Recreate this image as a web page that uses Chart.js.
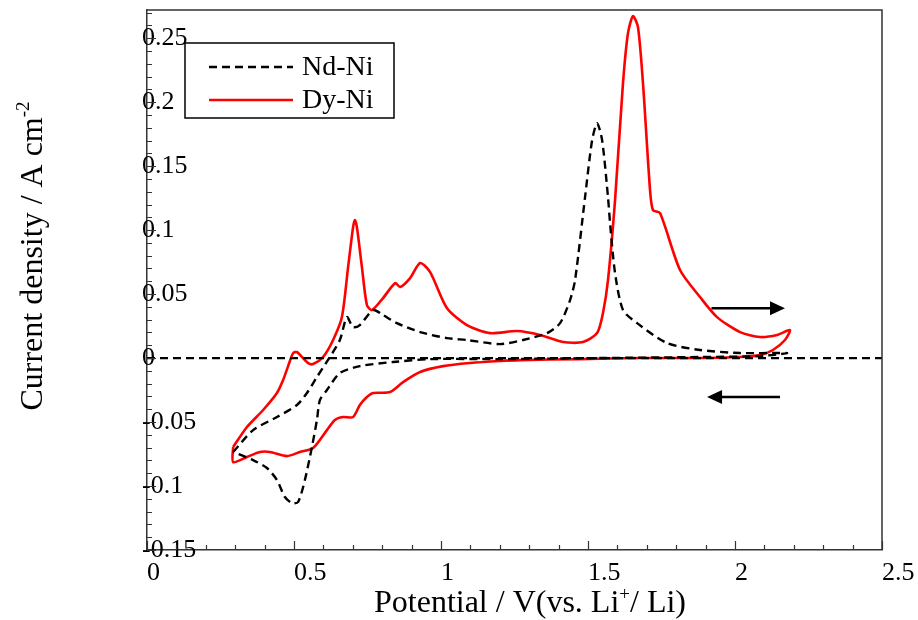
<!DOCTYPE html>
<html>
<head>
<meta charset="utf-8">
<script src="https://cdn.jsdelivr.net/npm/chart.js@4.4.1/dist/chart.umd.min.js"></script>
<style>
  html, body { margin: 0; padding: 0; background: #fff; }
</style>
</head>
<body>
<canvas id="cvChart" width="918" height="620"></canvas>
<script>
// tick labels
const xTicks = [0, 0.5, 1, 1.5, 2, 2.5];
const yTicks = [-0.15, -0.1, -0.05, 0, 0.05, 0.1, 0.15, 0.2, 0.25];

// Dy-Ni, forward scan then reverse scan
const dyV = [0.293, 0.340, 0.395, 0.442, 0.463, 0.480, 0.497, 0.510, 0.527, 0.548, 0.565, 0.599, 0.633, 0.663,
  0.684, 0.701, 0.707, 0.714, 0.731, 0.748, 0.765, 0.803, 0.844, 0.861, 0.895, 0.929, 0.963, 1.020, 1.088,
  1.167, 1.259, 1.337, 1.415, 1.483, 1.531, 1.551, 1.568, 1.592, 1.619, 1.636, 1.653, 1.670, 1.687, 1.711,
  1.721, 1.745, 1.813, 1.881, 1.939, 2.017, 2.085, 2.143, 2.187,
  2.170, 2.129, 2.085, 2.017, 1.881, 1.677, 1.473, 1.269, 1.201, 1.099, 1.007, 0.929, 0.871, 0.827, 0.769,
  0.748, 0.724, 0.701, 0.667, 0.639, 0.612, 0.565, 0.520, 0.476, 0.418, 0.384, 0.340, 0.293, 0.293];
const dyI = [-0.0695, -0.0539, -0.0406, -0.0273, -0.0172, -0.0063, 0.0039, 0.0047, 0.0008, -0.0039, -0.0047, 0.0008, 0.0141, 0.0320,
  0.0711, 0.1023, 0.1078, 0.1023, 0.0711, 0.0414, 0.0375, 0.0469, 0.0586, 0.0555, 0.0625, 0.0742, 0.0672, 0.0391, 0.0258,
  0.0195, 0.0211, 0.0180, 0.0125, 0.0125, 0.0195, 0.0352, 0.0609, 0.1234, 0.2148, 0.2539, 0.2672, 0.2586, 0.2148, 0.1313,
  0.1156, 0.1133, 0.0688, 0.0477, 0.0320, 0.0203, 0.0164, 0.0180, 0.0219,
  0.0141, 0.0063, 0.0023, 0.0008, 0.0, 0.0, -0.0008, -0.0016, -0.0023, -0.0039, -0.0063, -0.0109, -0.0188, -0.0266, -0.0273,
  -0.0305, -0.0367, -0.0461, -0.0461, -0.0484, -0.0563, -0.0703, -0.0734, -0.0766, -0.0734, -0.0734, -0.0773, -0.0813, -0.0695];

// Nd-Ni, forward scan then reverse scan
const ndV = [0.293, 0.361, 0.442, 0.510, 0.544, 0.578, 0.622, 0.656, 0.680, 0.701, 0.724, 0.769, 0.803, 0.850,
  0.929, 1.020, 1.088, 1.201, 1.279, 1.361, 1.405, 1.439, 1.456, 1.490, 1.514, 1.531, 1.548, 1.568, 1.575,
  1.592, 1.619, 1.667, 1.769, 1.881, 2.017, 2.177,
  2.085, 1.881, 1.541, 1.201, 0.963, 0.837, 0.724, 0.656, 0.612, 0.588, 0.578, 0.561, 0.537, 0.514, 0.493,
  0.469, 0.442, 0.408, 0.361, 0.293];
const ndI = [-0.0734, -0.0563, -0.0461, -0.0367, -0.0273, -0.0148, 0.0008, 0.0141, 0.0320, 0.0242, 0.0258, 0.0375, 0.0336, 0.0273,
  0.0203, 0.0156, 0.0141, 0.0109, 0.0141, 0.0195, 0.0273, 0.0453, 0.0609, 0.1258, 0.1703, 0.1836, 0.1703, 0.1258, 0.1055,
  0.0664, 0.0375, 0.0273, 0.0117, 0.0063, 0.0039, 0.0039,
  0.0016, 0.0008, 0.0, -0.0008, -0.0008, -0.0031, -0.0063, -0.0117, -0.025, -0.0328, -0.0484, -0.0695, -0.0953, -0.1125, -0.1133,
  -0.1086, -0.0953, -0.0859, -0.0797, -0.0734];

const zeroV = [0, 2.5];
const zeroI = [0, 0];

// scan direction arrows: [from V, to V, I]
const arrowFwd = [1.92, 2.17, 0.039];
const arrowRev = [2.153, 1.905, -0.0305];

const FONT = '"Liberation Serif", "DejaVu Serif", serif';

function toPoints(xs, ys) {
  return xs.map((x, i) => ({ x: x, y: ys[i] }));
}

function fmt(v) {
  return String(Math.round(v * 1000) / 1000);
}

function drawArrow(ctx, xs, ys, a) {
  const x1 = xs.getPixelForValue(a[0]);
  const x2 = xs.getPixelForValue(a[1]);
  const y = ys.getPixelForValue(a[2]);
  const dir = x2 > x1 ? 1 : -1;
  ctx.strokeStyle = '#000';
  ctx.fillStyle = '#000';
  ctx.lineWidth = 2.5;
  ctx.beginPath();
  ctx.moveTo(x1, y);
  ctx.lineTo(x2 - dir * 12, y);
  ctx.stroke();
  ctx.beginPath();
  ctx.moveTo(x2, y);
  ctx.lineTo(x2 - dir * 15, y - 7);
  ctx.lineTo(x2 - dir * 15, y + 7);
  ctx.closePath();
  ctx.fill();
}

// draw a run of [text, font, raise] pieces
function drawRuns(ctx, parts, cx, y) {
  let total = 0;
  parts.forEach(p => { ctx.font = p[1]; total += ctx.measureText(p[0]).width; });
  let x = cx - total / 2;
  parts.forEach(p => {
    ctx.font = p[1];
    ctx.fillText(p[0], x, y + p[2]);
    x += ctx.measureText(p[0]).width;
  });
}

const framePlugin = {
  id: 'frame',
  afterDraw(chart) {
    const ctx = chart.ctx;
    const area = chart.chartArea;
    const xs = chart.scales.x;
    const ys = chart.scales.y;
    ctx.save();

    // top and right border
    ctx.strokeStyle = '#333';
    ctx.lineWidth = 1.5;
    ctx.beginPath();
    ctx.moveTo(area.left, area.top);
    ctx.lineTo(area.right, area.top);
    ctx.lineTo(area.right, area.bottom);
    ctx.stroke();

    // inward tick marks, minor every 0.1 V / 0.01 A cm-2
    ctx.lineWidth = 1.2;
    ctx.beginPath();
    for (let k = 0; k <= 25; k++) {
      const px = Math.round(xs.getPixelForValue(k / 10)) + 0.5;
      const len = k % 5 === 0 ? 9 : 5;
      ctx.moveTo(px, area.bottom);
      ctx.lineTo(px, area.bottom - len);
    }
    for (let k = -15; k <= 27; k++) {
      const py = Math.round(ys.getPixelForValue(k / 100)) + 0.5;
      const len = k % 5 === 0 ? 9 : 5;
      ctx.moveTo(area.left, py);
      ctx.lineTo(area.left + len, py);
    }
    ctx.stroke();

    // scan direction arrows
    drawArrow(ctx, xs, ys, arrowFwd);
    drawArrow(ctx, xs, ys, arrowRev);

    // legend box
    const lx = 185, ly = 43, lw = 209, lh = 75;
    ctx.fillStyle = '#fff';
    ctx.fillRect(lx, ly, lw, lh);
    ctx.strokeStyle = '#000';
    ctx.lineWidth = 1.5;
    ctx.strokeRect(lx, ly, lw, lh);
    const items = chart.data.datasets.filter(d => d.label);
    const rows = [67, 100];
    ctx.textBaseline = 'middle';
    ctx.textAlign = 'left';
    items.forEach((d, i) => {
      ctx.strokeStyle = d.borderColor;
      ctx.lineWidth = d.borderWidth;
      ctx.setLineDash(d.borderDash || []);
      ctx.beginPath();
      ctx.moveTo(209, rows[i]);
      ctx.lineTo(293, rows[i]);
      ctx.stroke();
      ctx.setLineDash([]);
      ctx.fillStyle = '#000';
      ctx.font = '28px ' + FONT;
      ctx.fillText(d.label, 302, rows[i] + 1);
    });

    // axis titles with superscripts
    ctx.fillStyle = '#000';
    ctx.textBaseline = 'alphabetic';
    const main = '32px ' + FONT, sup = '19px ' + FONT;
    drawRuns(ctx, [['Potential / V(vs. Li', main, 0], ['+', sup, -12], ['/ Li)', main, 0]], 530, 612);

    ctx.save();
    ctx.translate(42, 256);
    ctx.rotate(-Math.PI / 2);
    drawRuns(ctx, [['Current density / A cm', main, 0], ['-2', sup, -13]], 0, 0);
    ctx.restore();

    ctx.restore();
  }
};

const ctx = document.getElementById('cvChart').getContext('2d');

const config = {
  type: 'line',
  data: {
    datasets: [
      {
        data: toPoints(zeroV, zeroI),
        borderColor: '#000',
        borderWidth: 2.2,
        borderDash: [8, 5],
        pointRadius: 0
      },
      {
        label: 'Nd-Ni',
        data: toPoints(ndV, ndI),
        borderColor: '#000',
        borderWidth: 2.4,
        borderDash: [8, 5],
        pointRadius: 0,
        tension: 0.25
      },
      {
        label: 'Dy-Ni',
        data: toPoints(dyV, dyI),
        borderColor: '#ff0000',
        borderWidth: 2.6,
        pointRadius: 0,
        tension: 0.25
      }
    ]
  },
  options: {
    responsive: false,
    animation: false,
    layout: { padding: { left: 0, right: 36, top: 10, bottom: 0 } },
    plugins: { legend: { display: false }, tooltip: { enabled: false } },
    scales: {
      x: {
        type: 'linear',
        min: 0,
        max: 2.5,
        afterFit: s => { s.height = 70; s.paddingLeft = 0; s.paddingRight = 0; },
        afterBuildTicks: s => { s.ticks = xTicks.map(v => ({ value: v })); },
        grid: { display: false, drawTicks: false },
        border: { display: true, color: '#333', width: 1.5 },
        ticks: {
          align: 'start',
          padding: 8,
          color: '#000',
          font: { family: FONT, size: 26 },
          callback: v => fmt(v)
        }
      },
      y: {
        type: 'linear',
        min: -0.15,
        max: 0.272,
        afterFit: s => { s.width = 147; s.paddingTop = 0; s.paddingBottom = 0; },
        afterBuildTicks: s => { s.ticks = yTicks.map(v => ({ value: v })); },
        grid: { display: false, drawTicks: false },
        border: { display: true, color: '#333', width: 1.5 },
        ticks: {
          mirror: true,
          padding: -5,
          color: '#000',
          font: { family: FONT, size: 26 },
          callback: v => fmt(v)
        }
      }
    }
  },
  plugins: [framePlugin]
};

const myChart = new Chart(ctx, config);
</script>
</body>
</html>
